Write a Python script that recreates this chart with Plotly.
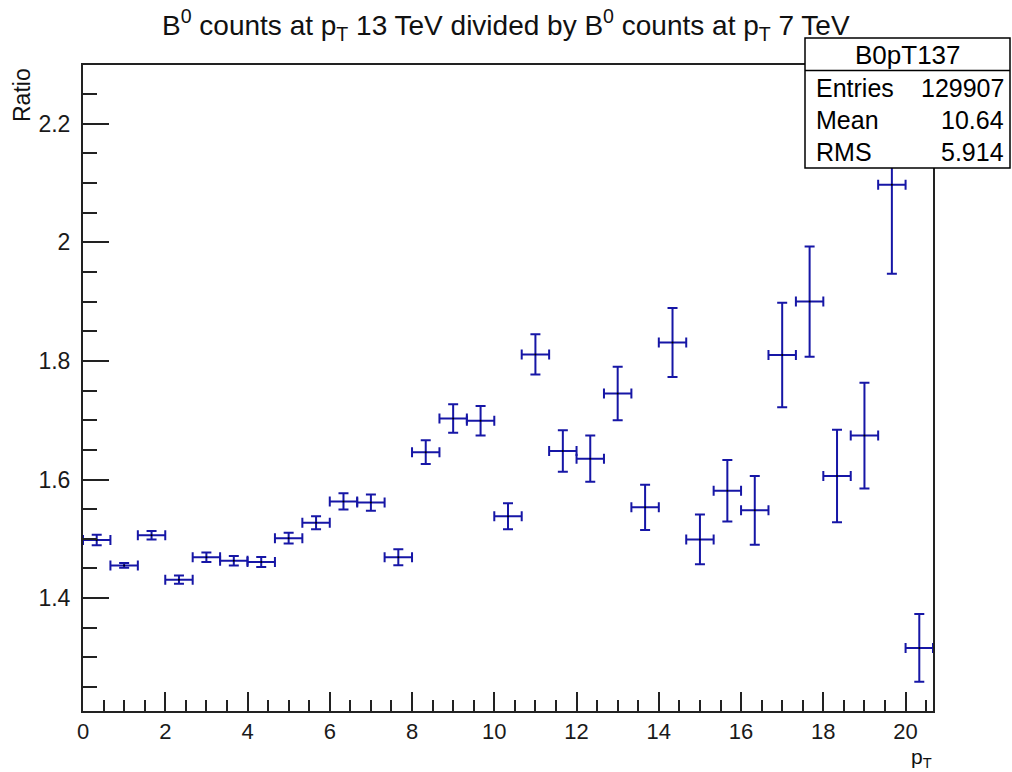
import plotly.graph_objects as go

# ---- data ----
bin_width = 2.0 / 3.0
bin_low_edges = [i * bin_width for i in range(31)]
ratio = [1.498, 1.455, 1.506, 1.431, 1.469, 1.463, 1.461, 1.501, 1.527, 1.563,
         1.561, 1.469, 1.646, 1.703, 1.699, 1.538, 1.811, 1.648, 1.635, 1.745,
         1.553, 1.831, 1.499, 1.581, 1.548, 1.810, 1.900, 1.606, 1.674, 2.097,
         1.316]
ratio_err = [0.009, 0.004, 0.007, 0.007, 0.008, 0.008, 0.0085, 0.009, 0.011, 0.0137,
             0.0138, 0.0135, 0.020, 0.024, 0.025, 0.022, 0.034, 0.035, 0.039, 0.045,
             0.038, 0.058, 0.042, 0.052, 0.058, 0.088, 0.093, 0.078, 0.089, 0.150,
             0.057]
stats_name = "B0pT137"
stats_labels = ["Entries", "Mean", "RMS"]
stats_values = ["129907", "10.64", "5.914"]
x_ticks = [0, 2, 4, 6, 8, 10, 12, 14, 16, 18, 20]
y_ticks = [1.4, 1.6, 1.8, 2.0, 2.2]

# ---- geometry ----
W, H = 1012, 772
ML, MR, MT, MB = 83, 79, 65, 61
PW, PH = W - ML - MR, H - MT - MB
FONT = "Liberation Sans"


def px(x):
    return (x - ML) / PW


def py(y):
    return (H - MB - y) / PH


centers = [e + bin_width / 2 for e in bin_low_edges]
line_col = "#1616a6"

fig = go.Figure()
fig.add_trace(go.Scatter(
    x=centers, y=ratio, mode="markers",
    marker=dict(color="black", size=2),
    error_y=dict(type="data", array=ratio_err, visible=True, color=line_col,
                 thickness=2, width=5),
    error_x=dict(type="data", array=[bin_width / 2] * len(centers), visible=True,
                 color=line_col, thickness=2, width=5),
    showlegend=False, hoverinfo="x+y",
))

axis_common = dict(
    showgrid=False, zeroline=False, showline=True, linecolor="#222",
    linewidth=2, mirror=True, ticks="inside", tickcolor="#222", tickwidth=2,
)
fig.update_xaxes(range=[0, 31 * bin_width], tickvals=x_ticks, ticklen=19,
                 minor=dict(dtick=0.5, tick0=0, ticks="inside", ticklen=11,
                            tickwidth=2, tickcolor="#222"),
                 tickfont=dict(family=FONT, size=22, color="#1a1a1a"),
                 ticklabelstandoff=0, **axis_common)
fig.update_yaxes(range=[1.2096, 2.299], tickvals=y_ticks,
                 ticktext=["1.4", "1.6", "1.8", "2", "2.2"], ticklen=26,
                 minor=dict(dtick=0.05, tick0=0, ticks="inside", ticklen=14,
                            tickwidth=2, tickcolor="#222"),
                 tickfont=dict(family=FONT, size=23, color="#1a1a1a"),
                 ticklabelstandoff=6, **axis_common)

annotations = [
    dict(text="B<sup>0</sup> counts at p<sub>T</sub> 13 TeV divided by B<sup>0</sup> counts at p<sub>T</sub> 7 TeV",
         x=px(506), y=py(25), xanchor="center", yanchor="middle",
         font=dict(family=FONT, size=28, color="#111")),
    dict(text="Ratio", textangle=-90, x=px(22), y=py(66), xanchor="center",
         yanchor="top", font=dict(family=FONT, size=23, color="#111")),
    dict(text="p<sub>T</sub>", x=px(933), y=py(772), xanchor="right", yanchor="bottom",
         borderpad=0, font=dict(family=FONT, size=21, color="#111")),
]

# stats box
bx0, bx1, by0, by1, bsep = 805, 1010, 38, 168, 70.5
shapes = [
    dict(type="rect", xref="paper", yref="paper", x0=px(bx0), x1=px(bx1),
         y0=py(by1), y1=py(by0), fillcolor="white",
         line=dict(color="black", width=1.5), layer="above"),
    dict(type="line", xref="paper", yref="paper", x0=px(bx0), x1=px(bx1),
         y0=py(bsep), y1=py(bsep), line=dict(color="black", width=1.5), layer="above"),
]
annotations.append(dict(text=stats_name, x=px((bx0 + bx1) / 2), y=py(55),
                        xanchor="center", yanchor="middle",
                        font=dict(family=FONT, size=26, color="black")))
row_y = [88, 120, 152]
for lab, val, ry in zip(stats_labels, stats_values, row_y):
    annotations.append(dict(text=lab, x=px(814), y=py(ry), xanchor="left",
                            yanchor="middle", font=dict(family=FONT, size=25, color="black")))
    annotations.append(dict(text=val, x=px(1006), y=py(ry), xanchor="right",
                            yanchor="middle", font=dict(family=FONT, size=25, color="black")))
for a in annotations:
    a.setdefault("xref", "paper")
    a.setdefault("yref", "paper")
    a.setdefault("showarrow", False)

fig.update_layout(
    width=W, height=H, margin=dict(l=ML, r=MR, t=MT, b=MB),
    paper_bgcolor="white", plot_bgcolor="white",
    annotations=annotations, shapes=shapes, showlegend=False,
)

fig.write_html("out.html")
